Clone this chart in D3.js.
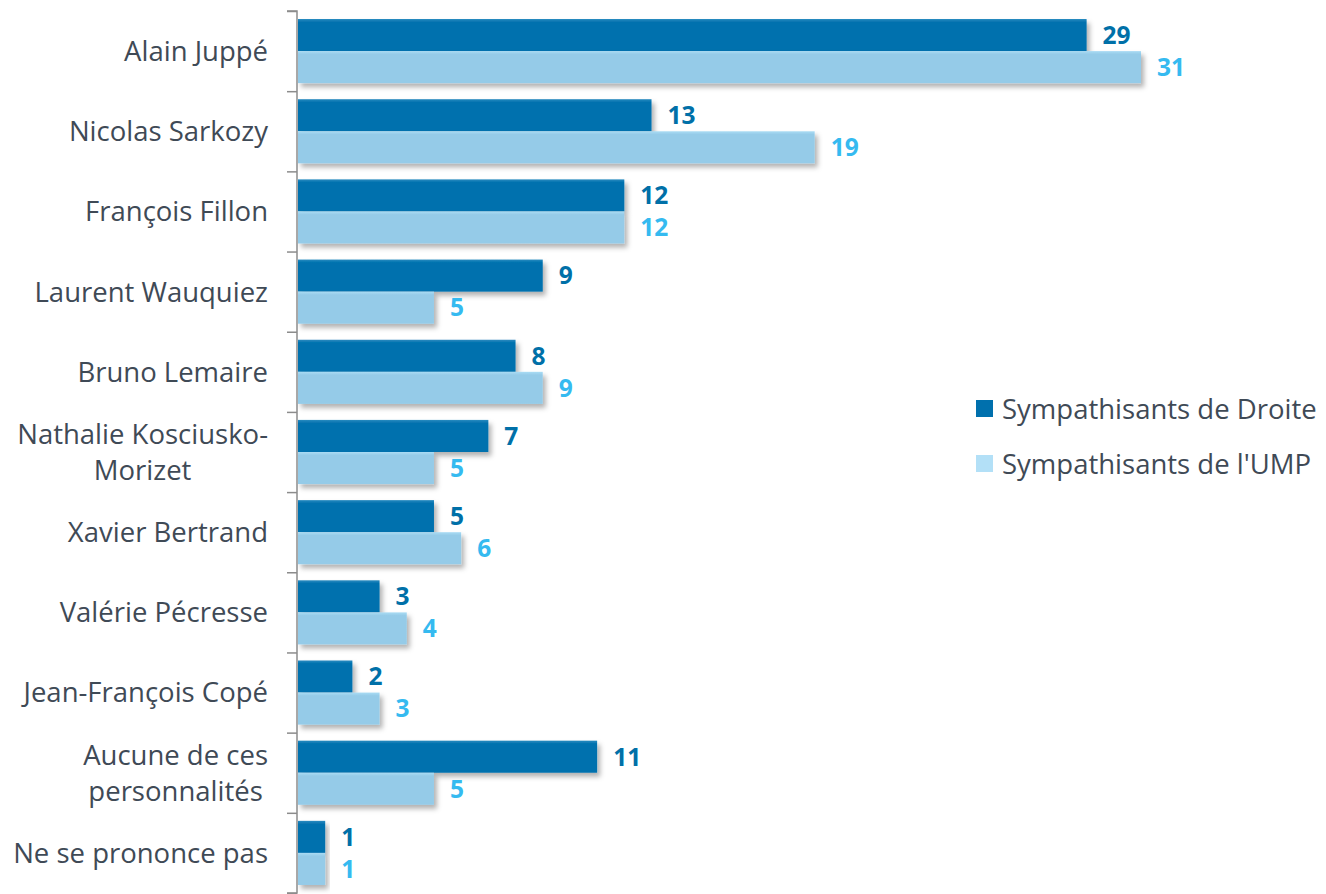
<!DOCTYPE html>
<html><head><meta charset="utf-8">
<script src="https://cdn.jsdelivr.net/npm/d3@7"></script>
<style>body{margin:0;background:#fff}svg{display:block}</style>
</head><body>
<svg id="c" width="1326" height="894"></svg>
<script>
const categories = [["Alain Juppé"],["Nicolas Sarkozy"],["François Fillon"],["Laurent Wauquiez"],["Bruno Lemaire"],["Nathalie Kosciusko-","Morizet"],["Xavier Bertrand"],["Valérie Pécresse"],["Jean-François Copé"],["Aucune de ces","personnalités "],["Ne se prononce pas"]];
const seriesNames = ["Sympathisants de Droite","Sympathisants de l'UMP"];
const droite = [29,13,12,9,8,7,5,3,2,11,1];
const ump = [31,19,12,5,9,5,6,4,3,5,1];

const svg = d3.select("#c");
const defs = svg.append("defs");
const f = defs.append("filter").attr("id","sh").attr("x","-5%").attr("y","-20%").attr("width","120%").attr("height","170%");
f.append("feDropShadow").attr("dx",3).attr("dy",4).attr("stdDeviation",2.5).attr("flood-color","#000").attr("flood-opacity",0.3);
function grad(id, top, base){
  const g = defs.append("linearGradient").attr("id",id).attr("x1",0).attr("x2",0).attr("y1",0).attr("y2",1);
  g.append("stop").attr("offset","0").attr("stop-color",top);
  g.append("stop").attr("offset","0.1").attr("stop-color",base);
  g.append("stop").attr("offset","1").attr("stop-color",base);
}
grad("gD","#2a8bc0","#0071ae");
grad("gU","#aadcf4","#95cbe8");

const x0 = 298;
const x = d3.scaleLinear().domain([0,31]).range([x0,1141]);
const y = d3.scaleBand().domain(d3.range(categories.length)).range([11,893]).paddingInner(0).paddingOuter(0);
const yi = d3.scaleBand().domain([0,1]).range([0,y.bandwidth()]).paddingInner(0.0).paddingOuter(0.25);

const fills = ["url(#gD)","url(#gU)"];
const labelCols = ["#0070a8","#35baf0"];
const vals = [droite, ump];

const g = svg.append("g");
vals.forEach((arr,s)=>{
  g.selectAll(".b"+s).data(arr).join("rect")
    .attr("x",x0).attr("y",(d,i)=>y(i)+yi(s)).attr("width",d=>x(d)-x0).attr("height",yi.bandwidth())
    .attr("fill",fills[s]).attr("filter","url(#sh)");
});
vals.forEach((arr,s)=>{
  g.selectAll(".l"+s).data(arr).join("text")
    .attr("x",d=>x(d)+16).attr("y",(d,i)=>y(i)+yi(s)+yi.bandwidth()/2).attr("dy","0.36em")
    .attr("font-family","Open Sans").attr("font-weight","bold").attr("font-size",24.5)
    .attr("fill",labelCols[s]).text(d=>d);
});

// axis
const ax = d3.axisLeft(d3.scaleLinear().domain([0,categories.length]).range([11,893])).tickValues(d3.range(categories.length+1)).tickSize(10).tickFormat("");
const axg = svg.append("g").attr("transform",`translate(${x0-1},0)`).call(ax);
axg.selectAll("path,line").attr("stroke","#8c8c8c").attr("stroke-width",1.5);
axg.select(".domain").attr("d","M-10,11H0V893H-10");

// category labels
categories.forEach((lines,i)=>{
  const cy = y(i)+y.bandwidth()/2;
  const t = svg.append("text").attr("font-family","Open Sans").attr("font-size",27.5).attr("fill","#3f4a56");
  if(lines.length===1){
    t.attr("x",268).attr("y",cy).attr("dy","0.36em").attr("text-anchor","end").text(lines[0]);
  } else {
    t.attr("text-anchor","middle");
    lines.forEach((ln,k)=>{
      t.append("tspan").attr("x",0).attr("y",cy+(k-0.5)*36).attr("dy","0.36em").text(ln);
    });
    const w0 = t.select("tspan").node().getComputedTextLength();
    t.selectAll("tspan").attr("x",268-w0/2);
  }
});

// legend
const lg = svg.append("g");
const lcol = ["#0070ad","#b3e0f7"];
seriesNames.forEach((n,k)=>{
  const ly = 409 + k*55;
  lg.append("rect").attr("x",976).attr("y",ly-9).attr("width",17).attr("height",17).attr("fill",lcol[k]);
  lg.append("text").attr("x",1002).attr("y",ly).attr("dy","0.36em").attr("font-family","Open Sans").attr("font-size",27.5).attr("fill","#3f4a56").text(n);
});
</script>
</body></html>
